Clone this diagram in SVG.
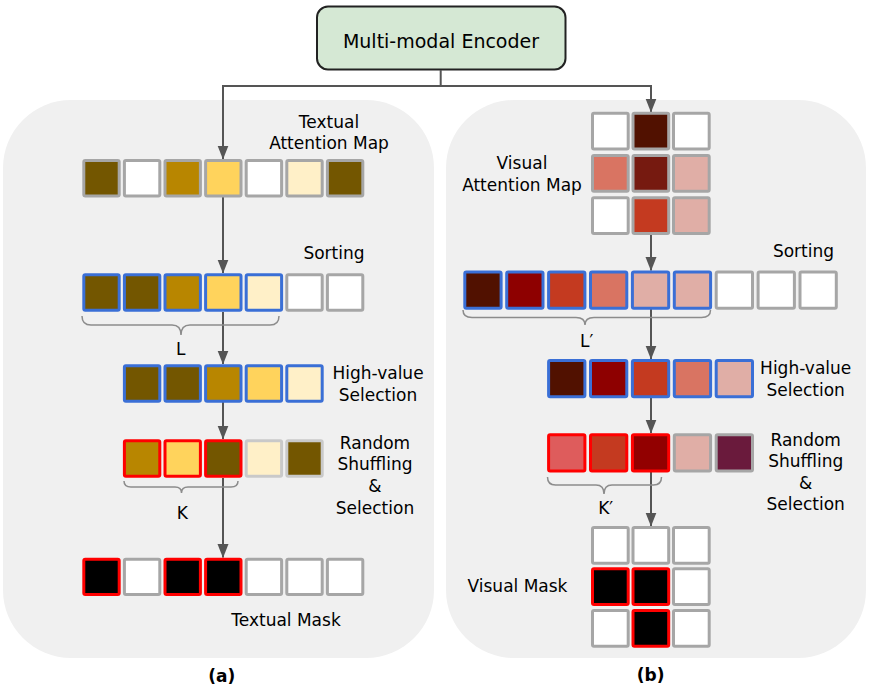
<svg xmlns="http://www.w3.org/2000/svg" width="870" height="692" viewBox="0 0 870 692">
<defs>
<marker id="ah" markerUnits="userSpaceOnUse" markerWidth="14" markerHeight="12" refX="13.5" refY="5.5" orient="auto">
<path d="M0,0 L14,5.5 L0,11 z" fill="#555"/>
</marker>
<style>
text{font-family:"DejaVu Sans","Open Sans",sans-serif;font-size:17px;fill:#000;text-anchor:middle}
.c{stroke-width:3}
.g{stroke:#a6a6a6}
.lg{stroke:#c9c9c9}
.b{stroke:#3a6fd6}
.r{stroke:#ff0000}
.arr{fill:none;stroke:#555;stroke-width:2;marker-end:url(#ah)}
.br{fill:none;stroke:#8c8c8c;stroke-width:1.5}
.panel{fill:#f0f0f0}
</style>
</defs>
<rect width="870" height="692" fill="#fff"/>
<rect class="panel" x="3" y="100" width="431" height="558" rx="68" ry="68"/>
<rect class="panel" x="446" y="100" width="420" height="558" rx="68" ry="68"/>

<g id="encoder">
<rect x="317" y="6.5" width="248.5" height="63" rx="11" fill="#d5e8d4" stroke="#222" stroke-width="2"/>
<text x="441" y="47.5" style="font-size:19px">Multi-modal Encoder</text>
</g>

<g id="connectors">
<path d="M440.7,70 V86" fill="none" stroke="#555" stroke-width="2"/>
<path d="M223,86 H651" fill="none" stroke="#555" stroke-width="2"/>
<path class="arr" d="M223,85 V159"/>
<path class="arr" d="M651,85 V112"/>
<path class="arr" d="M223,197 V273"/>
<path class="arr" d="M223,312 V364"/>
<path class="arr" d="M223,402 V439"/>
<path class="arr" d="M223,478 V557.5"/>
<path class="arr" d="M651,234 V270.5"/>
<path class="arr" d="M651,309 V359"/>
<path class="arr" d="M651,397 V433"/>
<path class="arr" d="M651,471 V526"/>
</g>

<g id="textual-attention-map">
<rect class="c g" x="83.8" y="160.6" width="35.4" height="35.4" rx="1.5" fill="#735600"/>
<rect class="c g" x="124.4" y="160.6" width="35.4" height="35.4" rx="1.5" fill="#fff"/>
<rect class="c g" x="165" y="160.6" width="35.4" height="35.4" rx="1.5" fill="#b88600"/>
<rect class="c g" x="205.6" y="160.6" width="35.4" height="35.4" rx="1.5" fill="#ffd35c"/>
<rect class="c g" x="246.2" y="160.6" width="35.4" height="35.4" rx="1.5" fill="#fff"/>
<rect class="c g" x="286.8" y="160.6" width="35.4" height="35.4" rx="1.5" fill="#fff0c8"/>
<rect class="c g" x="327.4" y="160.6" width="35.4" height="35.4" rx="1.5" fill="#735600"/>
<text x="329" y="127.5">Textual</text>
<text x="329" y="148.5">Attention Map</text>
</g>

<g id="textual-sorting">
<rect class="c b" x="83.8" y="274.8" width="35.4" height="35.4" rx="1.5" fill="#735600"/>
<rect class="c b" x="124.4" y="274.8" width="35.4" height="35.4" rx="1.5" fill="#735600"/>
<rect class="c b" x="165" y="274.8" width="35.4" height="35.4" rx="1.5" fill="#b88600"/>
<rect class="c b" x="205.6" y="274.8" width="35.4" height="35.4" rx="1.5" fill="#ffd35c"/>
<rect class="c b" x="246.2" y="274.8" width="35.4" height="35.4" rx="1.5" fill="#fff0c8"/>
<rect class="c g" x="286.8" y="274.8" width="35.4" height="35.4" rx="1.5" fill="#fff"/>
<rect class="c g" x="327.4" y="274.8" width="35.4" height="35.4" rx="1.5" fill="#fff"/>
<text x="334" y="259">Sorting</text>
<path class="br" d="M82,316 Q82,325 91,325 H172 Q181,325 181,335 Q181,325 190,325 H270 Q279,325 279,316"/>
<text x="180.7" y="355">L</text>
</g>

<g id="textual-high-value">
<rect class="c b" x="124.4" y="365.8" width="35.4" height="35.4" rx="1.5" fill="#735600"/>
<rect class="c b" x="165" y="365.8" width="35.4" height="35.4" rx="1.5" fill="#735600"/>
<rect class="c b" x="205.6" y="365.8" width="35.4" height="35.4" rx="1.5" fill="#b88600"/>
<rect class="c b" x="246.2" y="365.8" width="35.4" height="35.4" rx="1.5" fill="#ffd35c"/>
<rect class="c b" x="286.8" y="365.8" width="35.4" height="35.4" rx="1.5" fill="#fff0c8"/>
<text x="378" y="379">High-value</text>
<text x="378" y="400.5">Selection</text>
</g>

<g id="textual-random">
<rect class="c r" x="124.4" y="440.8" width="35.4" height="35.4" rx="1.5" fill="#b88600"/>
<rect class="c r" x="165" y="440.8" width="35.4" height="35.4" rx="1.5" fill="#ffd35c"/>
<rect class="c r" x="205.6" y="440.8" width="35.4" height="35.4" rx="1.5" fill="#735600"/>
<rect class="c lg" x="246.2" y="440.8" width="35.4" height="35.4" rx="1.5" fill="#fff0c8"/>
<rect class="c lg" x="286.8" y="440.8" width="35.4" height="35.4" rx="1.5" fill="#735600"/>
<text x="375" y="448.5">Random</text>
<text x="375" y="470">Shuffling</text>
<text x="375" y="491.5">&amp;</text>
<text x="375" y="513.5">Selection</text>
<path class="br" d="M124,481 Q124,487 131,487 H175 Q181.5,487 181.5,493 Q181.5,487 188,487 H231 Q238,487 238,481"/>
<text x="182.3" y="519">K</text>
</g>

<g id="textual-mask">
<rect class="c r" x="83.8" y="559.2" width="35.4" height="35.4" rx="1.5" fill="#000"/>
<rect class="c g" x="124.4" y="559.2" width="35.4" height="35.4" rx="1.5" fill="#fff"/>
<rect class="c r" x="165" y="559.2" width="35.4" height="35.4" rx="1.5" fill="#000"/>
<rect class="c r" x="205.6" y="559.2" width="35.4" height="35.4" rx="1.5" fill="#000"/>
<rect class="c g" x="246.2" y="559.2" width="35.4" height="35.4" rx="1.5" fill="#fff"/>
<rect class="c g" x="286.8" y="559.2" width="35.4" height="35.4" rx="1.5" fill="#fff"/>
<rect class="c g" x="327.4" y="559.2" width="35.4" height="35.4" rx="1.5" fill="#fff"/>
<text x="286" y="625.5">Textual Mask</text>
</g>

<g id="visual-attention-map">
<rect class="c g" x="592.5" y="113.2" width="35.7" height="35.7" rx="1.5" fill="#fff"/>
<rect class="c g" x="633" y="113.2" width="35.7" height="35.7" rx="1.5" fill="#511100"/>
<rect class="c g" x="673.5" y="113.2" width="35.7" height="35.7" rx="1.5" fill="#fff"/>
<rect class="c g" x="592.5" y="155.5" width="35.7" height="35.7" rx="1.5" fill="#d97462"/>
<rect class="c g" x="633" y="155.5" width="35.7" height="35.7" rx="1.5" fill="#761a10"/>
<rect class="c g" x="673.5" y="155.5" width="35.7" height="35.7" rx="1.5" fill="#e0aea6"/>
<rect class="c g" x="592.5" y="197.7" width="35.7" height="35.7" rx="1.5" fill="#fff"/>
<rect class="c g" x="633" y="197.7" width="35.7" height="35.7" rx="1.5" fill="#c43a20"/>
<rect class="c g" x="673.5" y="197.7" width="35.7" height="35.7" rx="1.5" fill="#e0aea6"/>
<text x="522" y="169">Visual</text>
<text x="522" y="190.5">Attention Map</text>
</g>

<g id="visual-sorting">
<rect class="c b" x="464.8" y="272" width="36.3" height="36.3" rx="1.5" fill="#511100"/>
<rect class="c b" x="506.7" y="272" width="36.3" height="36.3" rx="1.5" fill="#8e0000"/>
<rect class="c b" x="548.6" y="272" width="36.3" height="36.3" rx="1.5" fill="#c43a20"/>
<rect class="c b" x="590.5" y="272" width="36.3" height="36.3" rx="1.5" fill="#d97462"/>
<rect class="c b" x="632.4" y="272" width="36.3" height="36.3" rx="1.5" fill="#e0aea6"/>
<rect class="c b" x="674.3" y="272" width="36.3" height="36.3" rx="1.5" fill="#e0aea6"/>
<rect class="c g" x="716.2" y="272" width="36.3" height="36.3" rx="1.5" fill="#fff"/>
<rect class="c g" x="758.1" y="272" width="36.3" height="36.3" rx="1.5" fill="#fff"/>
<rect class="c g" x="800" y="272" width="36.3" height="36.3" rx="1.5" fill="#fff"/>
<text x="803.5" y="256.5">Sorting</text>
<path class="br" d="M463,310 Q463,317.5 472,317.5 H576 Q585,317.5 585,325 Q585,317.5 594,317.5 H701.5 Q710.5,317.5 710.5,310"/>
<text x="586.7" y="347">L′</text>
</g>

<g id="visual-high-value">
<rect class="c b" x="548.6" y="360.5" width="36.3" height="36.3" rx="1.5" fill="#511100"/>
<rect class="c b" x="590.5" y="360.5" width="36.3" height="36.3" rx="1.5" fill="#8e0000"/>
<rect class="c b" x="632.4" y="360.5" width="36.3" height="36.3" rx="1.5" fill="#c43a20"/>
<rect class="c b" x="674.3" y="360.5" width="36.3" height="36.3" rx="1.5" fill="#d97462"/>
<rect class="c b" x="716.2" y="360.5" width="36.3" height="36.3" rx="1.5" fill="#e0aea6"/>
<text x="805.7" y="374">High-value</text>
<text x="805.7" y="395.5">Selection</text>
</g>

<g id="visual-random">
<rect class="c r" x="548.6" y="434.8" width="36.3" height="36.3" rx="1.5" fill="#de5c5c"/>
<rect class="c r" x="590.5" y="434.8" width="36.3" height="36.3" rx="1.5" fill="#c43a20"/>
<rect class="c r" x="632.4" y="434.8" width="36.3" height="36.3" rx="1.5" fill="#920000"/>
<rect class="c g" x="674.3" y="434.8" width="36.3" height="36.3" rx="1.5" fill="#e0aea6"/>
<rect class="c g" x="716.2" y="434.8" width="36.3" height="36.3" rx="1.5" fill="#6a1a3c"/>
<text x="805.7" y="445.5">Random</text>
<text x="805.7" y="467">Shuffling</text>
<text x="805.7" y="488.5">&amp;</text>
<text x="805.7" y="510">Selection</text>
<path class="br" d="M547.5,477 Q547.5,485 555.5,485 H596 Q604,485 604,494 Q604,485 612,485 H653.5 Q661.5,485 661.5,477"/>
<text x="605.7" y="514">K′</text>
</g>

<g id="visual-mask">
<rect class="c g" x="592.5" y="527.5" width="35.7" height="35.7" rx="1.5" fill="#fff"/>
<rect class="c g" x="633" y="527.5" width="35.7" height="35.7" rx="1.5" fill="#fff"/>
<rect class="c g" x="673.5" y="527.5" width="35.7" height="35.7" rx="1.5" fill="#fff"/>
<rect class="c r" x="592.5" y="568.8" width="35.7" height="35.7" rx="1.5" fill="#000"/>
<rect class="c r" x="633" y="568.8" width="35.7" height="35.7" rx="1.5" fill="#000"/>
<rect class="c g" x="673.5" y="568.8" width="35.7" height="35.7" rx="1.5" fill="#fff"/>
<rect class="c g" x="592.5" y="610.5" width="35.7" height="35.7" rx="1.5" fill="#fff"/>
<rect class="c r" x="633" y="610.5" width="35.7" height="35.7" rx="1.5" fill="#000"/>
<rect class="c g" x="673.5" y="610.5" width="35.7" height="35.7" rx="1.5" fill="#fff"/>
<text x="517.5" y="591.5">Visual Mask</text>
</g>

<g id="captions">
<text x="221.7" y="681.5" style="font-weight:bold;font-size:17px">(a)</text>
<text x="650.7" y="681" style="font-weight:bold;font-size:17px">(b)</text>
</g>
</svg>
